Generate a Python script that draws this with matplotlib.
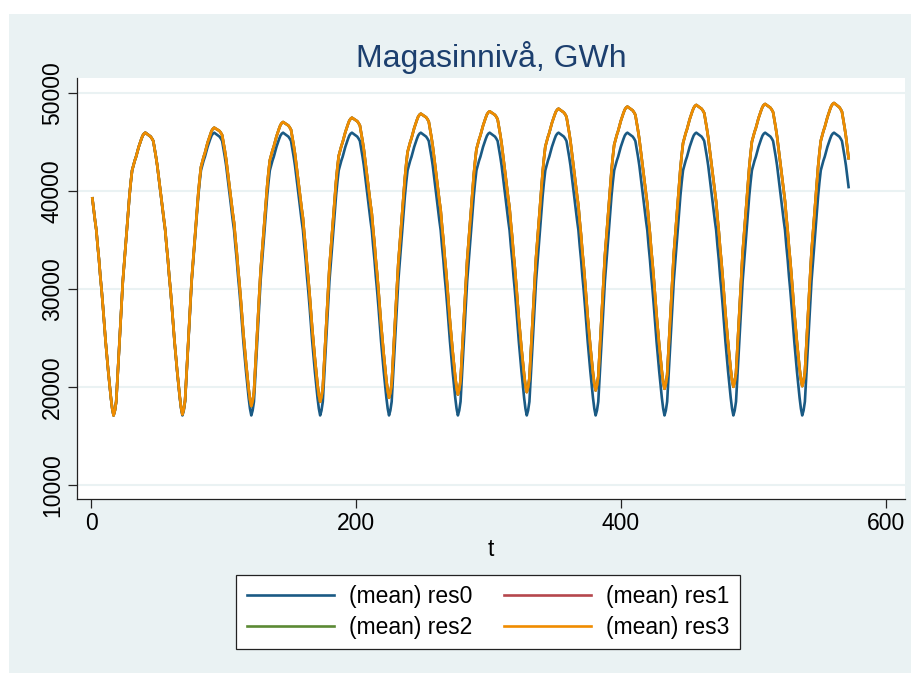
import numpy as np
import matplotlib.pyplot as plt
from matplotlib.patches import Rectangle

plt.rcParams['font.family'] = ['Liberation Sans', 'DejaVu Sans']

# Weekly reservoir level, GWh. res0 repeats the same yearly cycle (52 weeks, 11 years)
res0_year = [39250, 38100, 37000, 36000, 34400, 33000, 31300, 29850, 28200, 26400,
             24650, 23100, 21600, 20200, 18900, 17800, 17100, 17600, 18500, 21000,
             23300, 26000, 28400, 30800, 32500, 34300, 36000, 37800, 39500, 40900,
             42100, 42600, 43100, 43500, 44000, 44500, 44900, 45300, 45650, 45850,
             45950, 45850, 45750, 45650, 45550, 45350, 45100, 44300, 43500, 42600,
             41500, 40400]
res0 = res0_year * 11

# res3 (res1 and res2 lie under it), one list per year
res3_y1 = list(res0_year)
res3_y2 = [39300, 38150, 37050, 36050, 34460, 33070, 31370, 29920, 28280, 26480, 24730, 23190, 21690,
           20290, 19000, 17900, 17200, 17720, 18630, 21150, 23470, 26190, 28600, 31020, 32740, 34550,
           36270, 38090, 39800, 41220, 42440, 42960, 43470, 43890, 44410, 44930, 45340, 45760, 46130,
           46340, 46460, 46380, 46290, 46210, 46120, 45940, 45700, 44920, 44140, 43250, 42170, 41080]
res3_y3 = [39950, 38820, 37730, 36750, 35160, 33780, 32100, 30660, 29030, 27240, 25510, 23970, 22490,
           21110, 19820, 18740, 18050, 18560, 19460, 21970, 24270, 26980, 29390, 31790, 33500, 35300,
           37010, 38810, 40520, 41930, 43130, 43640, 44140, 44550, 45060, 45560, 45970, 46370, 46730,
           46930, 47040, 46950, 46860, 46770, 46680, 46490, 46250, 45470, 44680, 43790, 42700, 41610]
res3_y4 = [40470, 39330, 38240, 37250, 35660, 34270, 32580, 31150, 29510, 27720, 25980, 24440, 22950,
           21560, 20270, 19180, 18490, 19000, 19900, 22410, 24710, 27420, 29830, 32230, 33940, 35740,
           37450, 39250, 40960, 42370, 43570, 44080, 44580, 44990, 45500, 46000, 46410, 46810, 47170,
           47370, 47480, 47390, 47300, 47210, 47120, 46930, 46690, 45900, 45110, 44220, 43130, 42040]
res3_y5 = [40900, 39760, 38670, 37680, 36090, 34700, 33010, 31570, 29920, 28130, 26390, 24850, 23360,
           21970, 20680, 19590, 18900, 19410, 20310, 22820, 25120, 27830, 30240, 32640, 34350, 36150,
           37860, 39660, 41370, 42780, 43980, 44490, 44990, 45400, 45910, 46410, 46820, 47220, 47580,
           47780, 47890, 47800, 47700, 47610, 47520, 47330, 47080, 46290, 45500, 44600, 43510, 42420]
res3_y6 = [41280, 40130, 39040, 38050, 36450, 35060, 33370, 31930, 30280, 28490, 26750, 25200, 23710,
           22320, 21030, 19930, 19240, 19740, 20640, 23150, 25450, 28150, 30550, 32950, 34650, 36460,
           38160, 39960, 41660, 43060, 44260, 44770, 45270, 45670, 46170, 46670, 47070, 47480, 47830,
           48030, 48130, 48040, 47940, 47850, 47760, 47570, 47320, 46530, 45740, 44840, 43750, 42660]
res3_y7 = [41520, 40370, 39280, 38290, 36690, 35300, 33610, 32170, 30520, 28730, 26990, 25440, 23950,
           22560, 21270, 20170, 19480, 19980, 20890, 23390, 25690, 28400, 30800, 33200, 34900, 36710,
           38410, 40210, 41920, 43320, 44520, 45020, 45530, 45930, 46430, 46940, 47340, 47740, 48090,
           48300, 48400, 48300, 48210, 48110, 48010, 47820, 47570, 46780, 45980, 45080, 43990, 42890]
res3_y8 = [41740, 40600, 39500, 38500, 36910, 35510, 33810, 32370, 30720, 28930, 27180, 25630, 24140,
           22740, 21440, 20350, 19650, 20160, 21060, 23560, 25870, 28570, 30980, 33380, 35090, 36890,
           38600, 40400, 42110, 43510, 44710, 45220, 45720, 46130, 46630, 47140, 47540, 47950, 48300,
           48510, 48610, 48510, 48410, 48320, 48220, 48020, 47770, 46980, 46180, 45280, 44180, 43080]
res3_y9 = [41940, 40790, 39690, 38690, 37090, 35700, 34000, 32550, 30900, 29110, 27360, 25810, 24310,
           22910, 21620, 20520, 19820, 20330, 21230, 23730, 26040, 28740, 31150, 33550, 35260, 37060,
           38770, 40570, 42280, 43680, 44880, 45390, 45890, 46300, 46800, 47310, 47710, 48120, 48470,
           48680, 48780, 48680, 48590, 48490, 48390, 48200, 47950, 47150, 46360, 45460, 44360, 43270]
res3_y10 = [42120, 40970, 39880, 38880, 37280, 35890, 34190, 32740, 31090, 29300, 27550, 26000, 24510,
            23110, 21810, 20720, 20020, 20520, 21420, 23920, 26220, 28920, 31320, 33720, 35420, 37220,
            38920, 40720, 42430, 43830, 45030, 45530, 46030, 46430, 46930, 47430, 47830, 48230, 48580,
            48780, 48880, 48780, 48680, 48590, 48490, 48290, 48040, 47250, 46450, 45550, 44450, 43350]
res3_y11 = [42210, 41060, 39960, 38960, 37370, 35970, 34270, 32820, 31170, 29380, 27630, 26080, 24580,
            23180, 21890, 20790, 20090, 20590, 21490, 24000, 26300, 29000, 31400, 33800, 35500, 37310,
            39010, 40810, 42510, 43910, 45110, 45620, 46120, 46520, 47020, 47520, 47920, 48330, 48680,
            48880, 48980, 48870, 48770, 48660, 48550, 48350, 48090, 47280, 46470, 45570, 44460, 43350]
res3 = (res3_y1 + res3_y2 + res3_y3 + res3_y4 + res3_y5 + res3_y6 + res3_y7 + res3_y8
        + res3_y9 + res3_y10 + res3_y11)
res1 = list(res3)
res2 = list(res3)

series = [('(mean) res0', res0, '#1a5a84'),
          ('(mean) res1', res1, '#b5474d'),
          ('(mean) res2', res2, '#5b8a34'),
          ('(mean) res3', res3, '#f08c00')]

fig = plt.figure(figsize=(9.11, 6.73), dpi=100)
fig.patch.set_facecolor('white')
fig.patches.append(Rectangle((9 / 911, 0), 902 / 911, 1 - 14 / 673, transform=fig.transFigure,
                             facecolor='#eaf2f3', edgecolor='none', zorder=-10))

ax = fig.add_axes([77 / 911, 1 - 499 / 673, 828 / 911, 421 / 673])
ax.set_facecolor('white')

handles = []
for label, vals, color in series:
    t = np.arange(1, len(vals) + 1)
    h, = ax.plot(t, vals, color=color, linewidth=1.9, label=label)
    handles.append(h)

ax.set_xlim(-10.6, 614.6)
ax.set_ylim(8571, 51530)
ax.set_xticks([0, 200, 400, 600])
ax.set_yticks([10000, 20000, 30000, 40000, 50000])
ax.grid(True, axis='y', color='#eaf2f3', linewidth=1.5)
ax.set_axisbelow(True)

for side in ['top', 'right']:
    ax.spines[side].set_visible(False)
for side in ['left', 'bottom']:
    ax.spines[side].set_color('#222222')
    ax.spines[side].set_linewidth(0.9)

ax.tick_params(axis='both', direction='out', length=6.5, width=0.9, color='#222222',
               labelsize=16.5, pad=3)
plt.setp(ax.get_yticklabels(), rotation=90, va='center')
ax.set_xlabel('t', fontsize=16.5, labelpad=2)

fig.text(491 / 911, 1 - 67 / 673, 'Magasinnivå, GWh', ha='center', va='baseline',
         fontsize=23, color='#1c3f6e')

order = [0, 2, 1, 3]
leg = fig.legend([handles[i] for i in order], [handles[i].get_label() for i in order],
                 loc='center', bbox_to_anchor=(488 / 911, 1 - 612 / 673), ncol=2,
                 fontsize=16.5, handlelength=3.8, handletextpad=0.65, columnspacing=1.4,
                 labelspacing=0.35, borderpad=0.45, fancybox=False, framealpha=1)
leg.get_frame().set_edgecolor('#222222')
leg.get_frame().set_linewidth(0.9)

plt.savefig('out.png', dpi=100)
